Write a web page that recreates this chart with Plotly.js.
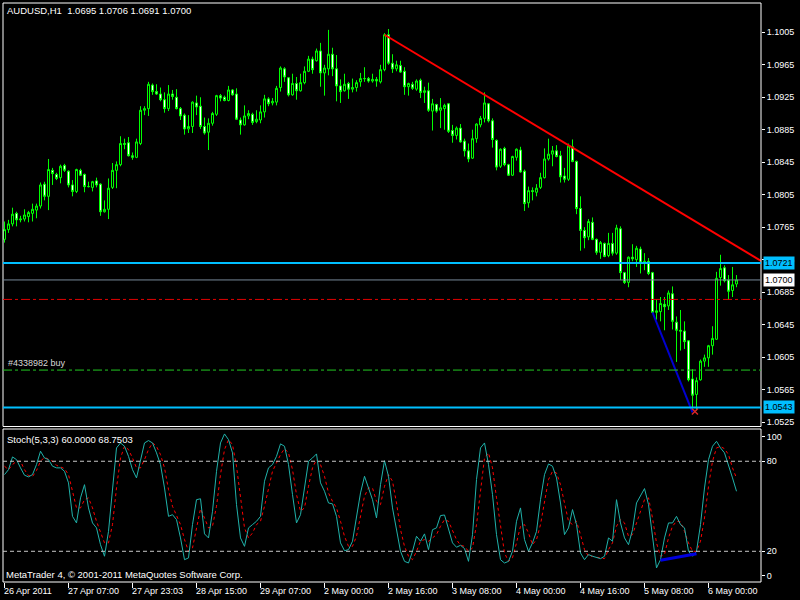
<!DOCTYPE html>
<html><head><meta charset="utf-8">
<script src="https://cdn.plot.ly/plotly-3.0.1.min.js"></script>
<style>html,body{margin:0;padding:0;background:#000;}#chart{width:800px;height:600px;}</style>
</head><body><div id="chart"></div>
<script>
// ---------- data ----------
const symbolName = 'AUDUSD,H1';
const openP = [1.0750,1.0762,1.0769,1.0782,1.0774,1.0775,1.0778,1.0782,1.0786,1.0791,
1.0818,1.0803,1.0835,1.0830,1.0826,1.0841,1.0834,1.0817,1.0809,1.0835,
1.0830,1.0815,1.0814,1.0822,1.0818,1.0784,1.0787,1.0814,1.0835,1.0842,
1.0868,1.0869,1.0853,1.0851,1.0868,1.0909,1.0911,1.0940,1.0932,1.0929,
1.0922,1.0911,1.0929,1.0925,1.0911,1.0903,1.0886,1.0889,1.0918,1.0914,
1.0889,1.0882,1.0893,1.0904,1.0927,1.0925,1.0921,1.0934,1.0929,1.0897,
1.0891,1.0902,1.0904,1.0895,1.0897,1.0907,1.0923,1.0918,1.0919,1.0937,
1.0960,1.0949,1.0928,1.0942,1.0933,1.0943,1.0957,1.0972,1.0970,1.0982,
1.0955,1.0960,1.0978,1.0960,1.0939,1.0933,1.0942,1.0935,1.0937,1.0944,
1.0948,1.0948,1.0945,1.0947,1.0944,1.0959,1.1002,1.0967,1.0960,1.0964,
1.0957,1.0938,1.0941,1.0935,1.0946,1.0931,1.0933,1.0908,1.0916,1.0909,
1.0911,1.0917,1.0884,1.0878,1.0887,1.0871,1.0859,1.0850,1.0874,1.0891,
1.0899,1.0917,1.0896,1.0872,1.0840,1.0862,1.0842,1.0829,1.0851,1.0860,
1.0834,1.0795,1.0810,1.0808,1.0814,1.0826,1.0849,1.0855,1.0859,1.0853,
1.0828,1.0824,1.0864,1.0846,1.0788,1.0761,1.0753,1.0771,1.0750,1.0734,
1.0745,1.0730,1.0745,1.0733,1.0763,1.0709,1.0697,1.0728,1.0725,1.0738,
1.0721,1.0723,1.0709,1.0660,1.0661,1.0670,1.0668,1.0683,1.0648,1.0638,
1.0637,1.0625,1.0578,1.0559,1.0577,1.0600,1.0604,1.0619,1.0627,1.0703,
1.0715,1.0700,1.0687,1.0695];
const highP = [1.0772,1.0774,1.0789,1.0784,1.0779,1.0787,1.0785,1.0794,1.0794,1.0820,
1.0821,1.0849,1.0838,1.0832,1.0842,1.0843,1.0835,1.0823,1.0837,1.0837,
1.0831,1.0821,1.0822,1.0826,1.0819,1.0798,1.0825,1.0844,1.0846,1.0877,
1.0874,1.0876,1.0857,1.0874,1.0914,1.0914,1.0944,1.0942,1.0941,1.0937,
1.0931,1.0940,1.0934,1.0935,1.0913,1.0905,1.0903,1.0920,1.0927,1.0925,
1.0900,1.0899,1.0907,1.0928,1.0929,1.0927,1.0939,1.0935,1.0936,1.0900,
1.0915,1.0909,1.0906,1.0909,1.0915,1.0928,1.0925,1.0924,1.0939,1.0963,
1.0962,1.0950,1.0954,1.0950,1.0954,1.0963,1.0976,1.0975,1.0985,1.0992,
1.0965,1.1008,1.0986,1.0977,1.0947,1.0954,1.0944,1.0948,1.0946,1.0955,
1.0962,1.0950,1.0954,1.0950,1.0965,1.1004,1.1009,1.0978,1.0970,1.0970,
1.0962,1.0943,1.0944,1.0947,1.0948,1.0938,1.0943,1.0923,1.0917,1.0924,
1.0917,1.0918,1.0891,1.0889,1.0892,1.0874,1.0868,1.0885,1.0893,1.0902,
1.0931,1.0918,1.0899,1.0873,1.0862,1.0864,1.0843,1.0853,1.0862,1.0864,
1.0836,1.0815,1.0814,1.0818,1.0832,1.0862,1.0874,1.0865,1.0866,1.0859,
1.0838,1.0868,1.0873,1.0847,1.0803,1.0765,1.0775,1.0777,1.0751,1.0748,
1.0746,1.0758,1.0758,1.0768,1.0766,1.0710,1.0729,1.0744,1.0742,1.0741,
1.0733,1.0727,1.0710,1.0676,1.0679,1.0679,1.0687,1.0692,1.0655,1.0663,
1.0649,1.0626,1.0590,1.0580,1.0602,1.0608,1.0620,1.0643,1.0710,1.0731,
1.0718,1.0706,1.0716,1.0706];
const lowP = [1.0746,1.0758,1.0766,1.0766,1.0771,1.0772,1.0771,1.0772,1.0776,1.0788,
1.0798,1.0786,1.0817,1.0823,1.0819,1.0833,1.0814,1.0803,1.0807,1.0828,
1.0808,1.0814,1.0809,1.0814,1.0779,1.0783,1.0775,1.0812,1.0813,1.0840,
1.0861,1.0852,1.0848,1.0850,1.0866,1.0903,1.0902,1.0928,1.0928,1.0920,
1.0906,1.0908,1.0922,1.0910,1.0897,1.0879,1.0881,1.0881,1.0903,1.0886,
1.0879,1.0860,1.0890,1.0902,1.0920,1.0920,1.0920,1.0927,1.0897,1.0879,
1.0890,1.0898,1.0891,1.0893,1.0893,1.0900,1.0914,1.0915,1.0915,1.0932,
1.0944,1.0926,1.0927,1.0922,1.0932,1.0941,1.0956,1.0954,1.0969,1.0938,
1.0927,1.0952,1.0951,1.0920,1.0918,1.0932,1.0923,1.0931,1.0932,1.0938,
1.0944,1.0943,1.0943,1.0938,1.0942,1.0957,1.0965,1.0955,1.0957,1.0955,
1.0928,1.0927,1.0934,1.0933,1.0924,1.0918,1.0907,1.0884,1.0906,1.0887,
1.0885,1.0881,1.0869,1.0873,1.0869,1.0852,1.0845,1.0849,1.0869,1.0888,
1.0894,1.0894,1.0863,1.0835,1.0838,1.0840,1.0828,1.0828,1.0847,1.0832,
1.0785,1.0789,1.0798,1.0803,1.0812,1.0825,1.0847,1.0840,1.0851,1.0820,
1.0820,1.0822,1.0845,1.0781,1.0736,1.0739,1.0749,1.0749,1.0731,1.0726,
1.0728,1.0728,1.0730,1.0731,1.0700,1.0695,1.0691,1.0723,1.0716,1.0708,
1.0712,1.0706,1.0658,1.0651,1.0649,1.0638,1.0663,1.0639,1.0599,1.0613,
1.0615,1.0575,1.0543,1.0539,1.0576,1.0593,1.0593,1.0608,1.0626,1.0693,
1.0697,1.0676,1.0679,1.0691];
const closeP = [1.0762,1.0769,1.0781,1.0774,1.0775,1.0780,1.0783,1.0787,1.0791,1.0817,
1.0803,1.0836,1.0831,1.0825,1.0840,1.0835,1.0817,1.0809,1.0836,1.0829,
1.0815,1.0815,1.0821,1.0817,1.0784,1.0787,1.0813,1.0835,1.0842,1.0868,
1.0867,1.0853,1.0851,1.0870,1.0909,1.0911,1.0941,1.0932,1.0929,1.0922,
1.0911,1.0929,1.0926,1.0911,1.0902,1.0886,1.0889,1.0919,1.0913,1.0889,
1.0881,1.0893,1.0905,1.0927,1.0924,1.0921,1.0934,1.0928,1.0898,1.0891,
1.0902,1.0905,1.0894,1.0898,1.0907,1.0923,1.0917,1.0920,1.0936,1.0961,
1.0950,1.0928,1.0942,1.0933,1.0943,1.0957,1.0972,1.0959,1.0982,1.0955,
1.0961,1.0978,1.0960,1.0939,1.0932,1.0941,1.0935,1.0937,1.0943,1.0948,
1.0948,1.0945,1.0947,1.0945,1.0959,1.1002,1.0967,1.0960,1.0965,1.0956,
1.0938,1.0942,1.0936,1.0945,1.0931,1.0933,1.0909,1.0917,1.0908,1.0912,
1.0915,1.0883,1.0878,1.0887,1.0870,1.0859,1.0849,1.0874,1.0892,1.0899,
1.0918,1.0896,1.0873,1.0839,1.0861,1.0842,1.0829,1.0852,1.0861,1.0833,
1.0794,1.0810,1.0809,1.0813,1.0826,1.0849,1.0855,1.0859,1.0852,1.0827,
1.0824,1.0865,1.0846,1.0788,1.0761,1.0752,1.0772,1.0750,1.0734,1.0746,
1.0729,1.0745,1.0733,1.0764,1.0709,1.0697,1.0728,1.0726,1.0739,1.0721,
1.0723,1.0708,1.0660,1.0662,1.0671,1.0667,1.0684,1.0649,1.0638,1.0637,
1.0624,1.0577,1.0558,1.0576,1.0600,1.0604,1.0619,1.0628,1.0702,1.0714,
1.0699,1.0686,1.0694,1.0700];

const stochMain = [71.1,74.4,82.9,81.1,75.6,70.7,69.6,71.1,77.8,86.7,
82.2,81.1,76.7,75.6,75.6,73.3,65.6,43.3,38.9,55.6,
64.4,48.9,38.9,35.6,24.4,16.7,33.3,63.3,88.9,92.2,
90,83.3,74.4,68.9,81.1,92.2,93.8,92.2,85.6,77.8,
62.2,43.3,44.4,41.1,28.9,14.4,15.6,37.8,54.4,55,
31.6,28.9,46.7,73.3,92.2,98.2,94.4,85.6,51.1,28.9,
23.3,35.6,37.8,40,43.3,66.7,75.6,77.8,83.3,91.6,
90,77.8,57.8,38.9,44.4,62.2,80,82.2,84.9,65.6,
60,52.2,51.6,43.3,25.6,20.4,21.1,26.7,42.2,58.9,
70,62.2,54.4,42.2,64.4,80.4,70,48.9,35.6,20,
13.3,12.2,20,30,26.7,31.6,21.1,34.4,35.6,43.8,
44.2,35.6,25.6,22.7,24,21.8,13.3,31.1,67.8,88.9,
92.2,77.8,57.8,31.1,14.4,12.2,13.3,20,40,48.9,
27.8,20,25.6,33.3,54.4,71.1,78.2,76.7,68.9,52.2,
31.1,35.6,47.8,37.8,18.9,14.4,17.8,16.7,16,15.1,
16.7,28.9,26.7,54.4,38.9,28.9,24.4,34.4,52.2,56.7,
61.8,51.1,31.1,8.9,14.4,28.9,38.9,38.9,43.3,37.8,
35.6,20,16.7,20,37.8,62.2,81.1,90,93.3,88.9,
85.6,77.8,68.9,60.0];
const stochSignal = [76.7,74.4,77.8,80,80,74.4,70.4,69.8,73.8,80,
82.7,81.1,80,77.3,76,75.1,71.1,60,48.9,48.9,
54.4,55.6,48.9,40,33.3,25.6,25.6,37.8,62.2,82.2,
90,87.8,82.2,75.6,75.6,81.1,87.8,92.2,90,84.4,
75.6,61.1,50,43.3,37.8,27.8,20,22.2,35.6,48.3,
42.2,35.6,36.7,50,71.1,87.8,94.4,91.1,76.7,55.6,
35.6,28.9,32.2,37.8,40,50,62.2,73.3,78.9,84.4,
88.4,85.6,74.4,57.8,46.7,48.9,63.3,75.6,81.1,77.8,
70,58.9,53.3,48.9,40,30,23.3,23.3,30,42.2,
56.7,62.2,62.2,53.3,51.1,63.3,71.1,66.7,52.2,34.5,
23.3,16.7,14.4,20,26.7,27.8,26.7,28.9,31.1,36.7,
41.1,40,34.4,27.8,24,23.3,20,22.2,37.8,62.2,
82.2,85.6,75.6,55.6,35.6,18.9,13.3,15.6,25.6,36.7,
37.8,32.2,24.4,27.8,37.8,52.2,67.8,73.3,72.2,64.4,
51.1,40,37.8,40,31.1,21.1,16.7,16.7,16,15.4,
15.1,21.1,25.6,36.7,41.1,38.9,30,31.1,38.9,47.8,
54.4,55.6,42.2,25.6,16.7,17.8,28.9,36.7,40,39.6,
33.3,25.6,20,20,26.7,42.2,63.3,80,88.9,89.8,
88.4,84.4,75.6,68.7503];

const timeTickBars = [0,16,32,48,64,80,96,112,128,144,160,176];
const timeTickText = ['26 Apr 2011','27 Apr 07:00','27 Apr 23:03','28 Apr 15:00','29 Apr 07:00','2 May 00:00','2 May 16:00','3 May 08:00','4 May 00:00','4 May 16:00','5 May 08:00','6 May 00:00'];
const priceTicks = [1.0525,1.0565,1.0605,1.0645,1.0685,1.0725,1.0765,1.0805,1.0845,1.0885,1.0925,1.0965,1.1005];

// horizontal levels
const resistLevel = 1.0721, supportLevel = 1.0543, bidLevel = 1.0700;
const stopLevel = 1.0676, orderLevel = 1.0589;
const orderLabel = '#4338982 buy';
// trend lines (anchor points, bar index / price)
const redTrendX = [95, 144], redTrendY = [1.1002, 1.0857];
const blueTrendX = [162, 172], blueTrendY = [1.0660, 1.0537];
const stochTrendX = [164, 173], stochTrendY = [14, 18.4];
const orderArrowX = [172.6], orderArrowY = [1.0538];
const stochLevels = [80, 20];

// ---------- build ----------
const bars = openP.map((_, i) => i);
const last = bars.length - 1;
const XR = [-0.375, 189.125];
const PY = 582, PH = 579;               // plot bottom px / height
const yp = px => (PY - px) / PH;        // pixel -> paper fraction
const xp = px => (px - 3) / 758;
const FONT = 'Liberation Sans, Arial, sans-serif';

// ray extension of red trend line
const slope = (redTrendY[1] - redTrendY[0]) / (redTrendX[1] - redTrendX[0]);
const rayX = [redTrendX[0], XR[1]];
const rayY = [redTrendY[0], redTrendY[0] + slope * (XR[1] - redTrendX[0])];

const traces = [
  {type:'candlestick', x:bars, open:openP, high:highP, low:lowP, close:closeP,
   xaxis:'x', yaxis:'y', whiskerwidth:0, hoverinfo:'skip',
   increasing:{line:{color:'#00ff00', width:1}, fillcolor:'#000000'},
   decreasing:{line:{color:'#00ff00', width:1}, fillcolor:'#ffffff'}},
  {type:'scatter', mode:'lines', x:rayX, y:rayY, xaxis:'x', yaxis:'y',
   line:{color:'#ff0000', width:2}, hoverinfo:'skip'},
  {type:'scatter', mode:'lines', x:blueTrendX, y:blueTrendY, xaxis:'x', yaxis:'y',
   line:{color:'#0000d0', width:2}, hoverinfo:'skip'},
  {type:'scatter', mode:'markers', x:orderArrowX, y:orderArrowY, xaxis:'x', yaxis:'y',
   marker:{symbol:'x-thin-open', size:6, line:{color:'#ff0000', width:1.5}}, hoverinfo:'skip'},
  {type:'scatter', mode:'lines', x:bars, y:stochSignal, xaxis:'x', yaxis:'y2',
   line:{color:'#ff0000', width:1, dash:'dot'}, hoverinfo:'skip'},
  {type:'scatter', mode:'lines', x:bars, y:stochMain, xaxis:'x', yaxis:'y2',
   line:{color:'#20b2aa', width:1}, hoverinfo:'skip'},
  {type:'scatter', mode:'lines', x:stochTrendX, y:stochTrendY, xaxis:'x', yaxis:'y2',
   line:{color:'#0000e0', width:3}, hoverinfo:'skip'}
];

const shapes = [
  {type:'rect', xref:'paper', yref:'paper', x0:0, x1:1, y0:yp(426.5), y1:1, line:{color:'#ffffff', width:1}},
  {type:'rect', xref:'paper', yref:'paper', x0:0, x1:1, y0:0, y1:yp(429), line:{color:'#ffffff', width:1}},
  {type:'line', xref:'paper', yref:'y', x0:0, x1:1, y0:bidLevel, y1:bidLevel, line:{color:'#778899', width:1}},
  {type:'line', xref:'paper', yref:'y', x0:0, x1:1, y0:stopLevel, y1:stopLevel, line:{color:'#e00000', width:1, dash:'dashdot'}},
  {type:'line', xref:'paper', yref:'y', x0:0, x1:1, y0:orderLevel, y1:orderLevel, line:{color:'#22c822', width:1, dash:'dashdot'}},
  {type:'line', xref:'paper', yref:'y', x0:0, x1:1, y0:resistLevel, y1:resistLevel, line:{color:'#00bfff', width:2}},
  {type:'line', xref:'paper', yref:'y', x0:0, x1:1, y0:supportLevel, y1:supportLevel, line:{color:'#00bfff', width:2}}
];
stochLevels.forEach(v => shapes.push({type:'line', xref:'paper', yref:'y2', x0:0, x1:1, y0:v, y1:v,
  line:{color:'#c8c8c8', width:1, dash:'4px,3px'}}));

const wfont = (s) => ({family:FONT, size:s, color:'#ffffff'});
const annotations = [
  {xref:'paper', yref:'paper', x:xp(5), y:yp(11), xanchor:'left', yanchor:'middle', showarrow:false,
   text: symbolName + '\u00a0\u00a0' + [openP[last], highP[last], lowP[last], closeP[last]].map(v => v.toFixed(4)).join(' '),
   font:wfont(9.5)},
  {xref:'paper', yref:'paper', x:xp(5), y:yp(440), xanchor:'left', yanchor:'middle', showarrow:false,
   text:'Stoch(5,3,3) ' + stochMain[last].toFixed(4) + ' ' + stochSignal[last].toFixed(4), font:wfont(9.5)},
  {xref:'paper', yref:'paper', x:xp(4), y:yp(574), xanchor:'left', yanchor:'middle', showarrow:false,
   text:'MetaTrader 4, \u00a9 2001-2011 MetaQuotes Software Corp.', font:wfont(9.5)},
  {xref:'paper', yref:'y', x:xp(6), y:orderLevel, xanchor:'left', yanchor:'bottom', showarrow:false,
   text:orderLabel, font:{family:FONT, size:9, color:'#d8d8d8'}},
  {xref:'paper', yref:'y', x:xp(763), y:resistLevel, xanchor:'left', yanchor:'middle', showarrow:false,
   text:resistLevel.toFixed(4), bgcolor:'#00bfff', borderpad:1, font:{family:FONT, size:9, color:'#000000'}},
  {xref:'paper', yref:'y', x:xp(763), y:bidLevel, xanchor:'left', yanchor:'middle', showarrow:false,
   text:bidLevel.toFixed(4), bgcolor:'#ffffff', borderpad:1, font:{family:FONT, size:9, color:'#000000'}},
  {xref:'paper', yref:'y', x:xp(763), y:supportLevel, xanchor:'left', yanchor:'middle', showarrow:false,
   text:supportLevel.toFixed(4), bgcolor:'#00bfff', borderpad:1, font:{family:FONT, size:9, color:'#000000'}}
];
timeTickBars.forEach((b, i) => annotations.push({xref:'x', yref:'paper', x:b, y:yp(591),
  xanchor:'left', yanchor:'middle', showarrow:false, xshift:-3, text:timeTickText[i], font:wfont(9)}));

const layout = {
  width:800, height:600,
  paper_bgcolor:'#000000', plot_bgcolor:'#000000',
  margin:{l:3, r:39, t:3, b:18, pad:0},
  showlegend:false, dragmode:false, hovermode:false,
  boxgap:0.5, boxgroupgap:0,
  xaxis:{range:XR, anchor:'y2', showgrid:false, zeroline:false, showline:false,
    rangeslider:{visible:false}, tickmode:'array', tickvals:timeTickBars,
    ticks:'outside', ticklen:5, tickcolor:'#ffffff', showticklabels:false},
  yaxis:{domain:[yp(426.5), 1], range:[1.05195, 1.10411], side:'right', anchor:'x',
    showgrid:false, zeroline:false, showline:false,
    tickmode:'array', tickvals:priceTicks, ticktext:priceTicks.map(v => v.toFixed(4)),
    ticks:'outside', ticklen:3, tickcolor:'#ffffff', tickfont:wfont(9)},
  yaxis2:{domain:[0, yp(429)], range:[-0.47, 101.5], side:'right', anchor:'x',
    showgrid:false, zeroline:false, showline:false,
    tickmode:'array', tickvals:[96.4, 80, 20, 3.7], ticktext:['100','80','20','0'],
    ticks:'outside', ticklen:3, tickcolor:'#ffffff', tickfont:wfont(9)},
  shapes:shapes, annotations:annotations
};

Plotly.newPlot('chart', traces, layout, {staticPlot:true, displayModeBar:false});
</script>
</body></html>
